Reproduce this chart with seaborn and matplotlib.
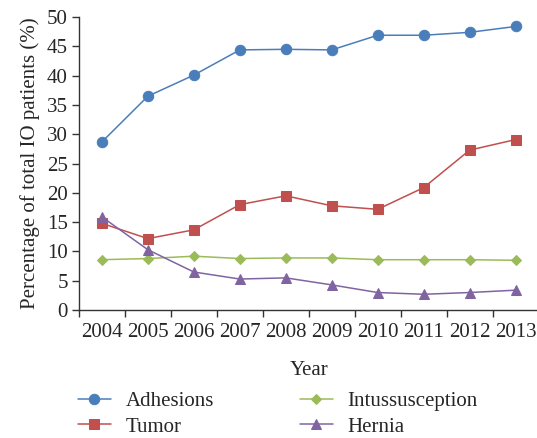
import seaborn as sns
import matplotlib.pyplot as plt
import numpy as np
import pandas as pd

years = ['2004', '2005', '2006', '2007', '2008', '2009', '2010', '2011', '2012', '2013']
adhesions = [28.7, 36.5, 40.1, 44.4, 44.5, 44.4, 46.9, 46.9, 47.4, 48.4]
tumor = [14.8, 12.2, 13.7, 18.0, 19.5, 17.8, 17.2, 20.9, 27.3, 29.1]
intussusception = [8.6, 8.8, 9.2, 8.8, 8.9, 8.9, 8.6, 8.6, 8.6, 8.5]
hernia = [15.9, 10.3, 6.5, 5.3, 5.5, 4.3, 3.0, 2.7, 3.0, 3.4]

series = {'Adhesions': adhesions, 'Tumor': tumor,
          'Intussusception': intussusception, 'Hernia': hernia}
colors = {'Adhesions': '#4A7EBB', 'Tumor': '#C0504D',
          'Intussusception': '#9BBB59', 'Hernia': '#8064A2'}
markers = {'Adhesions': 'o', 'Tumor': 's', 'Intussusception': 'D', 'Hernia': '^'}
msizes = {'Adhesions': 7.5, 'Tumor': 7, 'Intussusception': 5, 'Hernia': 7}

rows = []
for name in series:
    for i, v in enumerate(series[name]):
        rows.append({'pos': i, 'value': v, 'cause': name})
df = pd.DataFrame(rows)

sns.set_style('ticks')
plt.rcParams['font.family'] = ['Liberation Serif', 'DejaVu Serif']
fs = 15

fig = plt.figure(figsize=(5.37, 4.38), dpi=100)
ax = fig.add_axes([0.147, 0.292, 0.856, 0.669])

for name in series:
    sub = df[df['cause'] == name]
    sns.lineplot(data=sub, x='pos', y='value', color=colors[name], marker=markers[name],
                 markersize=msizes[name], markeredgecolor=colors[name], linewidth=1.1,
                 label=name, ax=ax)

ax.set_xlim(-0.5, 9.5)
ax.set_ylim(0, 50)
ax.set_yticks(np.arange(0, 51, 5))
ax.set_xticks(np.arange(-0.5, 10, 1))
ax.set_xticklabels([])
ax.set_xticks(np.arange(0, 10), minor=True)
ax.set_xticklabels(years, minor=True)
ax.tick_params(axis='x', which='minor', length=0, pad=9, labelsize=fs)
ax.tick_params(axis='x', which='major', length=5, width=1, color='#333333')
ax.tick_params(axis='y', length=5, width=1, color='#333333', labelsize=fs, pad=3)
sns.despine(ax=ax)
for s in ['left', 'bottom']:
    ax.spines[s].set_color('#333333')
    ax.spines[s].set_linewidth(1)

ax.set_xlabel('Year', fontsize=fs, labelpad=14)
ax.set_ylabel('Percentage of total IO patients (%)', fontsize=fs, labelpad=5)

handles, labels = ax.get_legend_handles_labels()
ax.get_legend().remove()
fig.legend(handles, labels, ncol=2, loc='lower left', bbox_to_anchor=(0.11, -0.04),
           frameon=False, fontsize=fs, handlelength=1.6, handletextpad=0.7,
           columnspacing=4.1, labelspacing=0.3)

fig.savefig('out.png', dpi=100)
